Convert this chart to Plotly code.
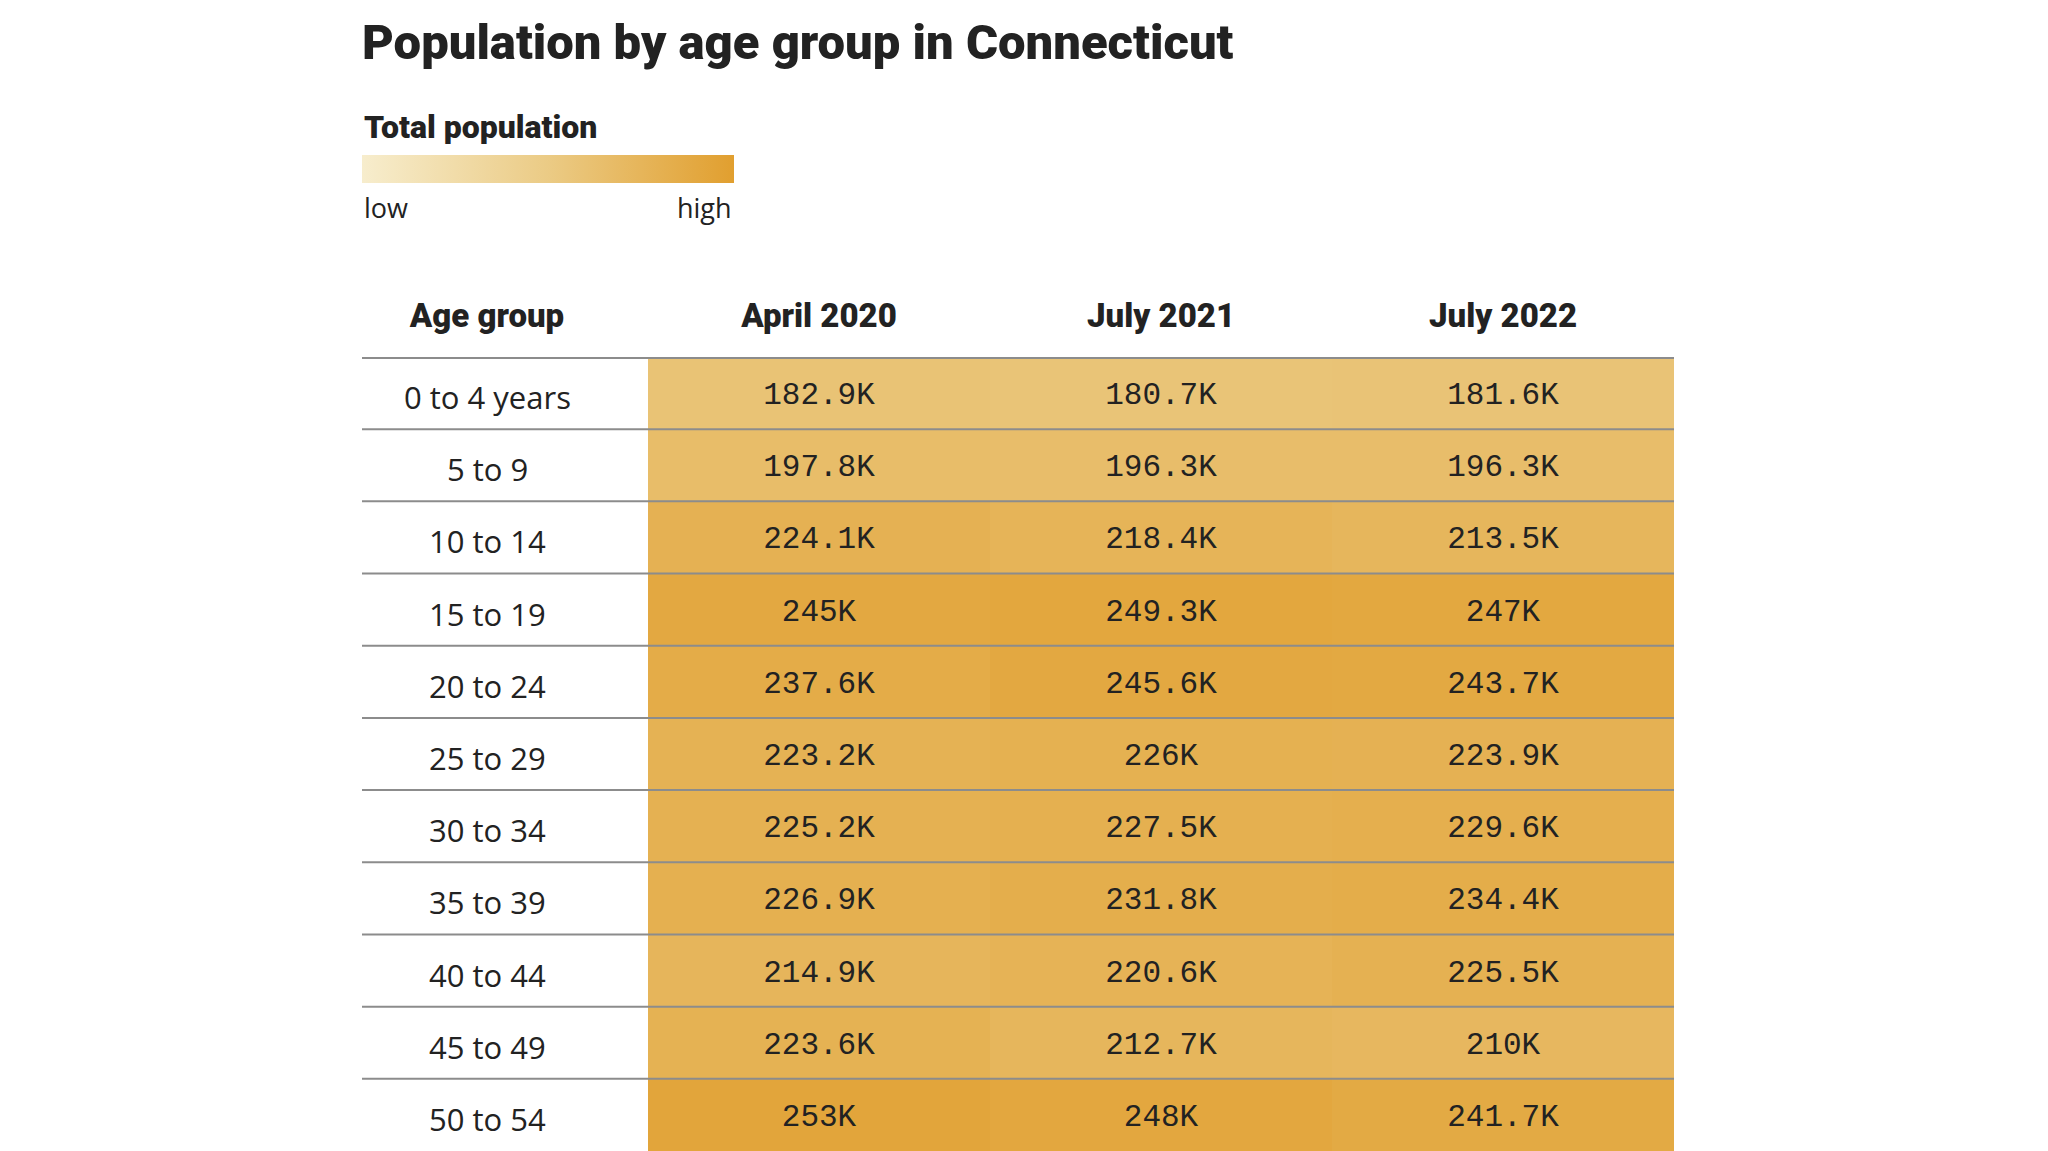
import plotly.graph_objects as go

# page has an 8px body margin; figure sized to fill the rest of the 2048x1151 window
OFF = 8
W, H = 2048 - OFF, 1151 - OFF

age_groups = ["0 to 4 years", "5 to 9", "10 to 14", "15 to 19", "20 to 24", "25 to 29",
              "30 to 34", "35 to 39", "40 to 44", "45 to 49", "50 to 54"]
periods = ["April 2020", "July 2021", "July 2022"]
# values in thousands
april_2020 = [182.9, 197.8, 224.1, 245, 237.6, 223.2, 225.2, 226.9, 214.9, 223.6, 253]
july_2021 = [180.7, 196.3, 218.4, 249.3, 245.6, 226, 227.5, 231.8, 220.6, 212.7, 248]
july_2022 = [181.6, 196.3, 213.5, 247, 243.7, 223.9, 229.6, 234.4, 225.5, 210, 241.7]

z = [list(r) for r in zip(april_2020, july_2021, july_2022)]
text = [[f"{v:g}K" for v in row] for row in z]

LEFT, AGE_R, RIGHT = 362, 648, 1674
TABLE_TOP = 357
px = lambda x: (x - OFF) / W
py = lambda y: 1 - (y - OFF) / H

DARK = "#222222"
HEAD = dict(family="Roboto", size=33, color=DARK, weight=900)

fig = go.Figure()
fig.add_trace(go.Heatmap(
    x=periods, y=age_groups, z=z, text=text, texttemplate="%{text}",
    textfont=dict(family="Liberation Mono", size=31, color=DARK),
    colorscale=[[0, "#F7EDCD"], [0.5, "#EBCB85"], [1, "#E19F2F"]],
    zmin=61, zmax=267, hoverinfo="skip",
    colorbar=dict(
        orientation="h", x=px(LEFT), xanchor="left", y=py(155), yanchor="top",
        len=372, lenmode="pixels", thickness=28, thicknessmode="pixels",
        outlinewidth=0, showticklabels=False, ticks="", xpad=0, ypad=0,
    ),
))
# invisible helper trace so the "Age group" header axis is drawn
fig.add_trace(go.Scatter(
    x=[0] * len(age_groups), y=age_groups, mode="markers", marker=dict(opacity=0),
    xaxis="x2", yaxis="y", hoverinfo="skip", showlegend=False,
))

shapes = []
for i in range(len(age_groups)):
    shapes.append(dict(type="line", xref="paper", yref="y",
                       x0=px(LEFT), x1=px(RIGHT), y0=i - 0.5, y1=i - 0.5,
                       line=dict(color="#8c8c8c", width=4 if i == 0 else 2), layer="above"))

annotations = [
    dict(text="Total population", xref="paper", yref="paper", x=px(LEFT), y=py(127),
         xanchor="left", yanchor="middle", showarrow=False,
         font=dict(family="Roboto", size=32, color=DARK, weight=900)),
    dict(text="low", xref="paper", yref="paper", x=px(LEFT), y=py(208),
         xanchor="left", yanchor="middle", showarrow=False,
         font=dict(family="Open Sans", size=27, color=DARK)),
    dict(text="high", xref="paper", yref="paper", x=px(734), y=py(208),
         xanchor="right", yanchor="middle", showarrow=False,
         font=dict(family="Open Sans", size=27, color=DARK)),
]
for a in age_groups:
    annotations.append(dict(text=a, xref="x2", yref="y", x=0, y=a, yshift=-4,
                            xanchor="center", yanchor="middle", showarrow=False,
                            font=dict(family="Open Sans", size=31, color=DARK)))

fig.update_layout(
    width=W, height=H, margin=dict(l=0, r=0, t=0, b=0),
    paper_bgcolor="white", plot_bgcolor="white", showlegend=False,
    title=dict(text="Population by age group in Connecticut", x=px(LEFT), xanchor="left",
               y=py(42), yanchor="middle",
               font=dict(family="Roboto", size=49, color=DARK, weight=900)),
    xaxis=dict(domain=[px(AGE_R), px(RIGHT)], side="top", showgrid=False, zeroline=False,
               ticks="", ticklabelstandoff=22, tickfont=HEAD),
    xaxis2=dict(domain=[px(LEFT), px(612)], side="top", range=[-1, 1], anchor="y",
                tickvals=[0], ticktext=["Age group"], ticks="", ticklabelstandoff=22,
                showgrid=False, zeroline=False, tickfont=HEAD),
    yaxis=dict(domain=[0, py(TABLE_TOP)], range=[len(age_groups) - 0.5, -0.5],
               showticklabels=False, showgrid=False, zeroline=False, ticks=""),
    shapes=shapes,
    annotations=annotations,
)

fig.write_html("out.html")
